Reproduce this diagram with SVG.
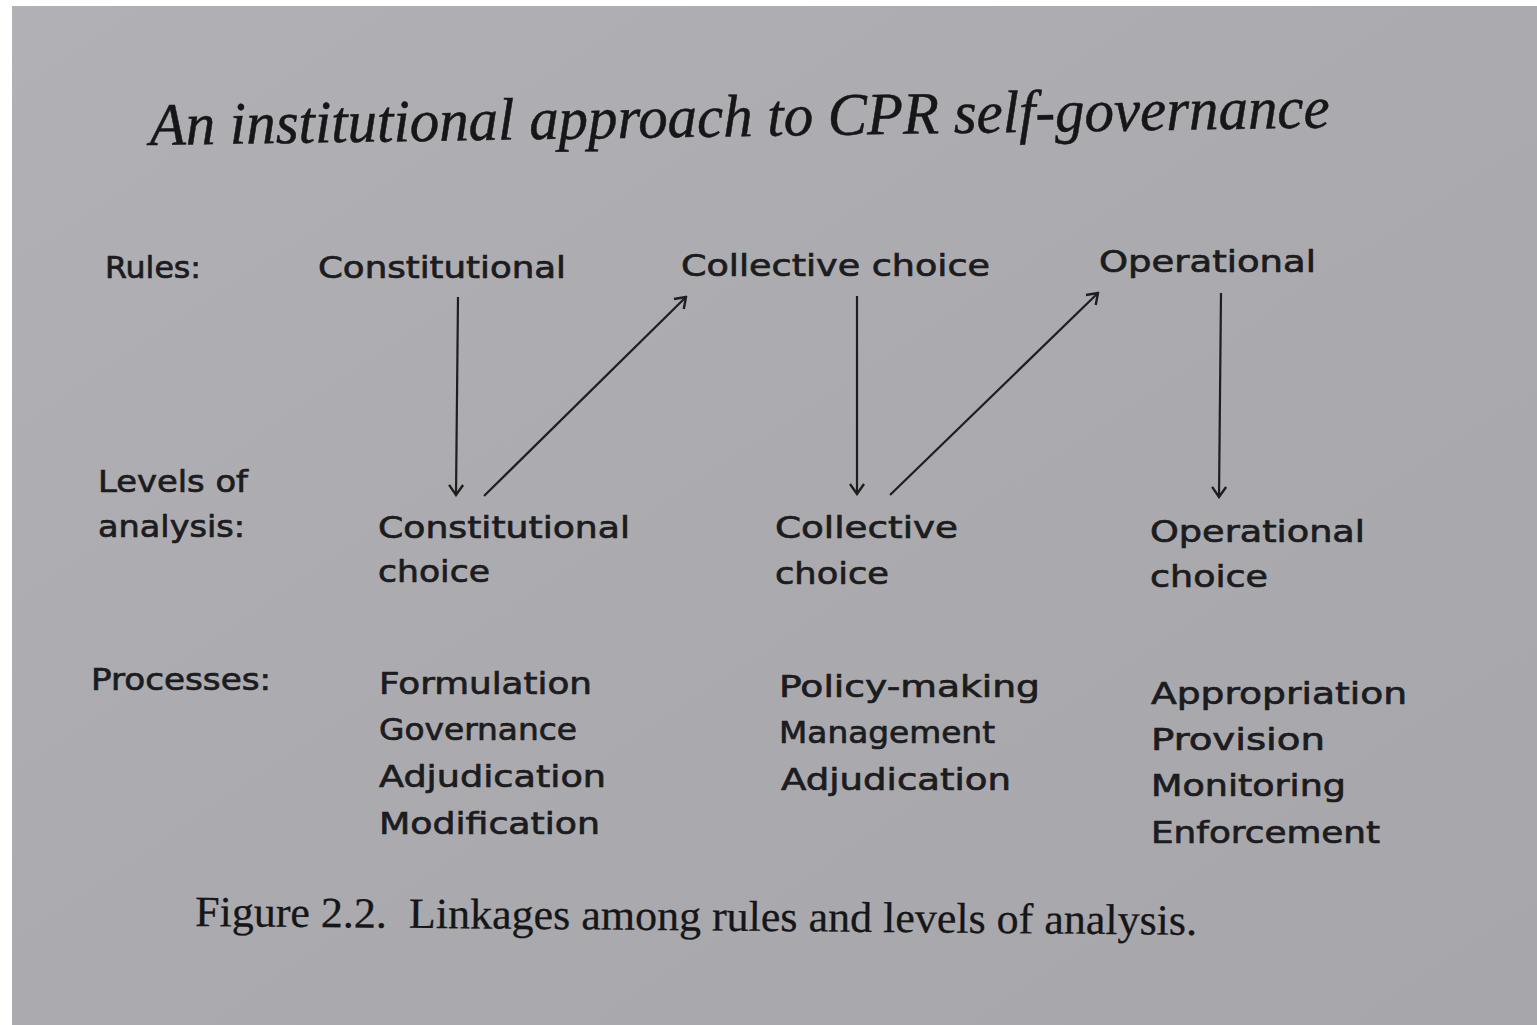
<svg xmlns="http://www.w3.org/2000/svg" width="1537" height="1025" viewBox="0 0 1537 1025">
<defs>
<style>
.lbl{font-family:"DejaVu Sans",sans-serif;font-size:30px;fill:#1c1c1e;stroke:#1c1c1e;stroke-width:0.7px;}
.title{font-family:"Liberation Serif",serif;font-style:italic;font-size:60px;fill:#161618;stroke:#161618;stroke-width:0.5px;}
.cap{font-family:"Liberation Serif",serif;font-size:43px;fill:#161618;stroke:#161618;stroke-width:0.3px;}
.arr{stroke:#1e1e20;stroke-width:2.2;fill:none;}
</style>
<linearGradient id="bg" x1="0" y1="0" x2="1" y2="1">
<stop offset="0" stop-color="#b1b1b5"/>
<stop offset="0.5" stop-color="#ababaf"/>
<stop offset="1" stop-color="#a7a7ab"/>
</linearGradient>
<marker id="ah" viewBox="-12 -10 14 20" markerWidth="14" markerHeight="20" refX="0" refY="0" orient="auto" markerUnits="userSpaceOnUse">
<path d="M-10,-7 L0,0 L-10,7" fill="none" stroke="#1e1e20" stroke-width="2.4"/>
</marker>
</defs>
<rect x="0" y="0" width="1537" height="1025" fill="#ffffff"/>
<rect x="12" y="6" width="1525" height="1019" fill="url(#bg)"/>

<g id="title">
<text class="title" x="150" y="145" textLength="1180" lengthAdjust="spacingAndGlyphs" transform="rotate(-0.85 150 145)">An institutional approach to CPR self-governance</text>
</g>

<g id="row-labels">
<text class="lbl" x="105" y="278" textLength="96" lengthAdjust="spacingAndGlyphs">Rules:</text>
<text class="lbl" x="98" y="492" textLength="150" lengthAdjust="spacingAndGlyphs">Levels of</text>
<text class="lbl" x="98" y="537" textLength="147" lengthAdjust="spacingAndGlyphs">analysis:</text>
<text class="lbl" x="91" y="690" textLength="180" lengthAdjust="spacingAndGlyphs">Processes:</text>
</g>

<g id="rule-constitutional">
<text class="lbl" x="318" y="278" textLength="248" lengthAdjust="spacingAndGlyphs">Constitutional</text>
</g>
<g id="rule-collective">
<text class="lbl" x="681" y="276" textLength="309" lengthAdjust="spacingAndGlyphs">Collective choice</text>
</g>
<g id="rule-operational">
<text class="lbl" x="1099" y="272" textLength="217" lengthAdjust="spacingAndGlyphs">Operational</text>
</g>

<g id="level-constitutional">
<text class="lbl" x="378" y="538" textLength="252" lengthAdjust="spacingAndGlyphs">Constitutional</text>
<text class="lbl" x="378" y="582" textLength="112" lengthAdjust="spacingAndGlyphs">choice</text>
</g>
<g id="level-collective">
<text class="lbl" x="775" y="538" textLength="183" lengthAdjust="spacingAndGlyphs">Collective</text>
<text class="lbl" x="775" y="584" textLength="114" lengthAdjust="spacingAndGlyphs">choice</text>
</g>
<g id="level-operational">
<text class="lbl" x="1150" y="542" textLength="215" lengthAdjust="spacingAndGlyphs">Operational</text>
<text class="lbl" x="1150" y="587" textLength="118" lengthAdjust="spacingAndGlyphs">choice</text>
</g>

<g id="processes-constitutional">
<text class="lbl" x="379" y="694" textLength="213" lengthAdjust="spacingAndGlyphs">Formulation</text>
<text class="lbl" x="379" y="740" textLength="198" lengthAdjust="spacingAndGlyphs">Governance</text>
<text class="lbl" x="379" y="787" textLength="227" lengthAdjust="spacingAndGlyphs">Adjudication</text>
<text class="lbl" x="379" y="834" textLength="221" lengthAdjust="spacingAndGlyphs">Modification</text>
</g>
<g id="processes-collective">
<text class="lbl" x="779" y="697" textLength="261" lengthAdjust="spacingAndGlyphs">Policy-making</text>
<text class="lbl" x="779" y="743" textLength="216" lengthAdjust="spacingAndGlyphs">Management</text>
<text class="lbl" x="781" y="790" textLength="230" lengthAdjust="spacingAndGlyphs">Adjudication</text>
</g>
<g id="processes-operational">
<text class="lbl" x="1151" y="704" textLength="256" lengthAdjust="spacingAndGlyphs">Appropriation</text>
<text class="lbl" x="1151" y="750" textLength="174" lengthAdjust="spacingAndGlyphs">Provision</text>
<text class="lbl" x="1151" y="796" textLength="195" lengthAdjust="spacingAndGlyphs">Monitoring</text>
<text class="lbl" x="1151" y="843" textLength="229" lengthAdjust="spacingAndGlyphs">Enforcement</text>
</g>

<g id="connectors">
<line class="arr" x1="458" y1="297" x2="456" y2="495" marker-end="url(#ah)"/>
<line class="arr" x1="484" y1="496" x2="686" y2="297" marker-end="url(#ah)"/>
<line class="arr" x1="857" y1="296" x2="857" y2="494" marker-end="url(#ah)"/>
<line class="arr" x1="890" y1="495" x2="1098" y2="293" marker-end="url(#ah)"/>
<line class="arr" x1="1221" y1="293" x2="1219" y2="497" marker-end="url(#ah)"/>
</g>

<g id="caption">
<text class="cap" x="195" y="926" textLength="1002" lengthAdjust="spacingAndGlyphs" transform="rotate(0.5 195 926)">Figure 2.2.&#160; Linkages among rules and levels of analysis.</text>
</g>
</svg>
